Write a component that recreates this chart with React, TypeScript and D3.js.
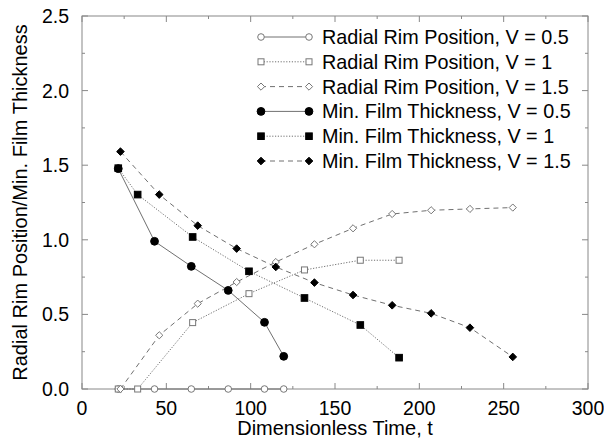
import React, { useEffect, useRef } from "react";
import * as d3 from "d3";

// sample times
const tV05 = [21.5, 43, 64.8, 86.7, 108.2, 119.6];
const tV1 = [21.5, 33, 65.6, 99, 131.9, 165, 188];
const tV15 = [22.8, 45.8, 68.6, 91.7, 114.9, 137.8, 160.7, 183.9, 207, 230, 255.4];

// radial rim position
const rimV05 = [0, 0, 0, 0, 0, 0];
const rimV1 = [0, 0, 0.445, 0.639, 0.798, 0.863, 0.863];
const rimV15 = [0, 0.36, 0.572, 0.717, 0.851, 0.97, 1.077, 1.173, 1.198, 1.207, 1.216];

// minimum film thickness
const filmV05 = [1.477, 0.99, 0.822, 0.661, 0.447, 0.219];
const filmV1 = [1.48, 1.303, 1.019, 0.789, 0.61, 0.429, 0.21];
const filmV15 = [1.591, 1.303, 1.095, 0.941, 0.818, 0.713, 0.63, 0.561, 0.507, 0.411, 0.215];

const seriesNames = [
  "Radial Rim Position, V = 0.5",
  "Radial Rim Position, V = 1",
  "Radial Rim Position, V = 1.5",
  "Min. Film Thickness, V = 0.5",
  "Min. Film Thickness, V = 1",
  "Min. Film Thickness, V = 1.5",
];

const xTicks = [0, 50, 100, 150, 200, 250, 300];
const yTicks = [0, 0.5, 1.0, 1.5, 2.0, 2.5];

const width = 604,
  height = 443;
const margin = { top: 16, right: 16, bottom: 54, left: 82 };

type Series = {
  name: string;
  t: number[];
  v: number[];
  dash: string;
  shape: "circle" | "square" | "diamond";
  filled: boolean;
};

const series: Series[] = [
  { name: seriesNames[0], t: tV05, v: rimV05, dash: "none", shape: "circle", filled: false },
  { name: seriesNames[1], t: tV1, v: rimV1, dash: "1.2,1.6", shape: "square", filled: false },
  { name: seriesNames[2], t: tV15, v: rimV15, dash: "5,4", shape: "diamond", filled: false },
  { name: seriesNames[3], t: tV05, v: filmV05, dash: "none", shape: "circle", filled: true },
  { name: seriesNames[4], t: tV1, v: filmV1, dash: "1.2,1.6", shape: "square", filled: true },
  { name: seriesNames[5], t: tV15, v: filmV15, dash: "5,4", shape: "diamond", filled: true },
];

function drawMarker(g: any, s: Series, x: number, y: number) {
  const fill = s.filled ? "#000" : "#fff";
  const stroke = s.filled ? "#000" : "#777";
  if (s.shape === "circle") {
    g.append("circle").attr("cx", x).attr("cy", y).attr("r", s.filled ? 3.9 : 3.3)
      .attr("fill", fill).attr("stroke", stroke).attr("stroke-width", 1);
  } else if (s.shape === "square") {
    const h = s.filled ? 3.3 : 3;
    g.append("rect").attr("x", x - h).attr("y", y - h).attr("width", 2 * h).attr("height", 2 * h)
      .attr("fill", fill).attr("stroke", stroke).attr("stroke-width", 1);
  } else {
    const h = s.filled ? 3.8 : 3.6;
    g.append("path").attr("d", `M${x},${y - h}L${x + h},${y}L${x},${y + h}L${x - h},${y}Z`)
      .attr("fill", fill).attr("stroke", stroke).attr("stroke-width", 1);
  }
}

export default function App() {
  const ref = useRef<SVGSVGElement>(null);

  useEffect(() => {
    const svg = d3.select(ref.current);
    svg.selectAll("*").remove();
    const innerWidth = width - margin.left - margin.right;
    const innerHeight = height - margin.top - margin.bottom;

    const x = d3.scaleLinear().domain([0, 300]).range([margin.left, margin.left + innerWidth]);
    const y = d3.scaleLinear().domain([0, 2.5]).range([margin.top + innerHeight, margin.top]);

    svg.append("rect").attr("width", width).attr("height", height).attr("fill", "#fff");

    const frame = svg.append("g").attr("stroke", "#888").attr("stroke-width", 1);
    frame.append("rect")
      .attr("x", x(0)).attr("y", y(2.5))
      .attr("width", x(300) - x(0)).attr("height", y(0) - y(2.5))
      .attr("fill", "none");

    // inward ticks on all four sides
    d3.range(0, 301, 25).forEach((t) => {
      const len = t % 50 === 0 ? 6 : 3;
      frame.append("line").attr("x1", x(t)).attr("x2", x(t)).attr("y1", y(0)).attr("y2", y(0) - len);
      frame.append("line").attr("x1", x(t)).attr("x2", x(t)).attr("y1", y(2.5)).attr("y2", y(2.5) + len);
    });
    d3.range(0, 2.51, 0.25).forEach((v) => {
      const len = Math.round(v * 100) % 50 === 0 ? 6 : 3;
      frame.append("line").attr("x1", x(0)).attr("x2", x(0) + len).attr("y1", y(v)).attr("y2", y(v));
      frame.append("line").attr("x1", x(300)).attr("x2", x(300) - len).attr("y1", y(v)).attr("y2", y(v));
    });

    const font = "'Liberation Sans', Arial, sans-serif";
    svg.append("g").selectAll("text").data(xTicks).join("text")
      .attr("x", (d) => x(d)).attr("y", y(0) + 26)
      .attr("text-anchor", "middle").style("font-family", font).style("font-size", "19.5px")
      .text((d) => String(d));
    svg.append("g").selectAll("text").data(yTicks).join("text")
      .attr("x", x(0) - 13).attr("y", (d) => y(d) + 7)
      .attr("text-anchor", "end").style("font-family", font).style("font-size", "19.5px")
      .text((d) => d.toFixed(1));

    svg.append("text").attr("x", x(150)).attr("y", 435)
      .attr("text-anchor", "middle").style("font-family", font).style("font-size", "20px")
      .text("Dimensionless Time, t");
    svg.append("text")
      .attr("transform", `translate(27, ${y(1.25)}) rotate(-90)`)
      .attr("text-anchor", "middle").style("font-family", font).style("font-size", "20px")
      .text("Radial Rim Position/Min. Film Thickness");

    const line = d3.line<[number, number]>().x((d) => x(d[0])).y((d) => y(d[1]));
    const plot = svg.append("g");
    series.forEach((s) => {
      const pts = s.t.map((t, i) => [t, s.v[i]] as [number, number]);
      plot.append("path").attr("d", line(pts)).attr("fill", "none")
        .attr("stroke", "#707070").attr("stroke-width", 1)
        .attr("stroke-dasharray", s.dash);
    });
    series.forEach((s) => {
      s.t.forEach((t, i) => drawMarker(plot, s, x(t), y(s.v[i])));
    });

    // legend
    const legend = svg.append("g");
    series.forEach((s, i) => {
      const ly = 37 + i * 24.8;
      legend.append("line").attr("x1", 261).attr("x2", 309).attr("y1", ly).attr("y2", ly)
        .attr("stroke", "#707070").attr("stroke-width", 1).attr("stroke-dasharray", s.dash);
      drawMarker(legend, s, 261, ly);
      drawMarker(legend, s, 309, ly);
      legend.append("text").attr("x", 322).attr("y", ly + 7)
        .style("font-family", font).style("font-size", "19.8px")
        .text(s.name);
    });
  }, []);

  return (
    <svg ref={ref} width={width} height={height} style={{ display: "block", position: "absolute", left: 0, top: 0 }} />
  );
}
